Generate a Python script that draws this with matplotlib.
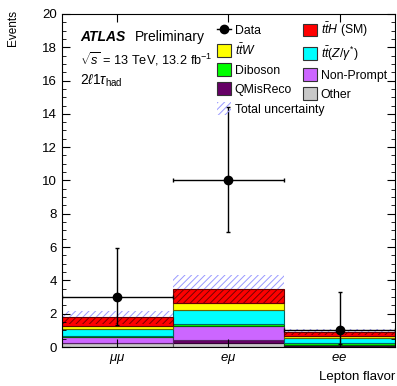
import numpy as np
import matplotlib.pyplot as plt
from matplotlib.patches import Patch
from matplotlib.lines import Line2D

plt.rcParams['font.family'] = ['Liberation Sans', 'DejaVu Sans']
plt.rcParams['mathtext.fontset'] = 'custom'
plt.rcParams['mathtext.rm'] = 'Liberation Sans'
plt.rcParams['mathtext.it'] = 'Liberation Sans:italic'
plt.rcParams['mathtext.bf'] = 'Liberation Sans:bold'
plt.rcParams['hatch.linewidth'] = 0.7

# bins
flavors = [r'$\mu\mu$', r'$e\mu$', r'$ee$']

# backgrounds (bottom to top of the stack)
other = [0.22, 0.22, 0.08]
qmisreco = [0.04, 0.18, 0.02]
nonprompt = [0.36, 0.86, 0.02]
diboson = [0.04, 0.10, 0.12]
ttz = [0.40, 0.86, 0.32]
ttw = [0.20, 0.42, 0.12]
tth = [0.52, 0.84, 0.22]
total_unc = [0.40, 0.84, 0.20]

# data with asymmetric poisson errors
data = [3, 10, 1]
data_lo = [1.68, 3.1, 0.83]
data_hi = [2.92, 4.4, 2.3]

samples = [
    ('Other', other, '#c8c8c8', '#555555'),
    ('QMisReco', qmisreco, '#660066', '#330033'),
    ('Non-Prompt', nonprompt, '#cc66ff', '#552266'),
    ('Diboson', diboson, '#00ff00', '#006600'),
    (r'$t\bar{t}(Z/\gamma^{*})$', ttz, '#00ffff', '#006666'),
    (r'$t\bar{t}W$', ttw, '#ffff00', '#666600'),
    (r'$t\bar{t}H$ (SM)', tth, '#ff0000', '#660000'),
]

fig = plt.figure(figsize=(3.97, 3.86), dpi=100)
ax = fig.add_axes([0.156, 0.101, 0.839, 0.863])

x = np.arange(len(flavors))
bottom = np.zeros(len(flavors))
handles = {}
for name, vals, col, edge in samples:
    vals = np.array(vals)
    ax.bar(x, vals, width=1.0, bottom=bottom, color=col, edgecolor=edge, linewidth=0.8)
    handles[name] = Patch(facecolor=col, edgecolor='#333333', linewidth=0.8)
    bottom = bottom + vals

# total uncertainty band: dark hatch where it overlaps the stack, light blue above
unc = np.array(total_unc)
ax.bar(x, unc, width=1.0, bottom=bottom - unc, color='none', edgecolor='#770000',
       hatch='/////', linewidth=0)
ax.bar(x, unc, width=1.0, bottom=bottom, color='none', edgecolor='#9999ff',
       hatch='/////', linewidth=0)
unc_handle = Patch(facecolor='none', edgecolor='#9999ff', hatch='/////', linewidth=0)

# data
ax.errorbar(x, data, yerr=[data_lo, data_hi], xerr=0.5, fmt='o', color='black',
            markersize=6, elinewidth=1.0, capsize=1.5)
data_handle = Line2D([], [], color='black', marker='o', markersize=6, lw=1.0)

ax.set_xlim(-0.5, 2.5)
ax.set_ylim(0, 20)
ax.set_xticks(x)
ax.set_xticklabels(flavors, fontsize=9.5)
ax.set_yticks(np.arange(0, 21, 2))
ax.set_yticks(np.arange(0, 20.1, 0.5), minor=True)
ax.tick_params(axis='both', which='both', direction='in', top=True, right=True, labelsize=9.5)
ax.tick_params(axis='x', which='minor', top=False, bottom=False)
ax.tick_params(which='major', length=6)
ax.tick_params(which='minor', length=3)

fig.text(13 / 397, 1 - 10 / 386, 'Events', rotation=90, ha='center', va='top', fontsize=8.5)
ax.set_xlabel('Lepton flavor', fontsize=9.5, loc='right')

ax.text(0.054, 0.93, 'ATLAS', transform=ax.transAxes, fontsize=10,
        fontweight='bold', fontstyle='italic', va='center')
ax.text(0.219, 0.93, 'Preliminary', transform=ax.transAxes, fontsize=10, va='center')
ax.text(0.054, 0.865, r'$\sqrt{s}$ = 13 TeV, 13.2 fb$^{-1}$', transform=ax.transAxes,
        fontsize=9.2, va='center')
ax.text(0.054, 0.80, r'2$\ell$1$\tau_{\mathrm{had}}$', transform=ax.transAxes,
        fontsize=10, va='center')

order_h = [data_handle, handles[r'$t\bar{t}W$'], handles['Diboson'], handles['QMisReco'],
           handles[r'$t\bar{t}H$ (SM)'], handles[r'$t\bar{t}(Z/\gamma^{*})$'],
           handles['Non-Prompt'], handles['Other']]
order_l = ['Data', r'$t\bar{t}W$', 'Diboson', 'QMisReco',
           r'$t\bar{t}H$ (SM)', r'$t\bar{t}(Z/\gamma^{*})$', 'Non-Prompt', 'Other']
leg_kw = dict(frameon=False, fontsize=8.8, loc='upper left', handlelength=1.15,
              handleheight=1.2, handletextpad=0.3, labelspacing=0.45,
              borderpad=0, borderaxespad=0)
leg = ax.legend(order_h, order_l, ncol=2, columnspacing=0.9,
                bbox_to_anchor=(0.465, 0.98), **leg_kw)
ax.add_artist(leg)
ax.legend([unc_handle], ['Total uncertainty'], bbox_to_anchor=(0.465, 0.735), **leg_kw)

plt.savefig('out.png', dpi=100)
